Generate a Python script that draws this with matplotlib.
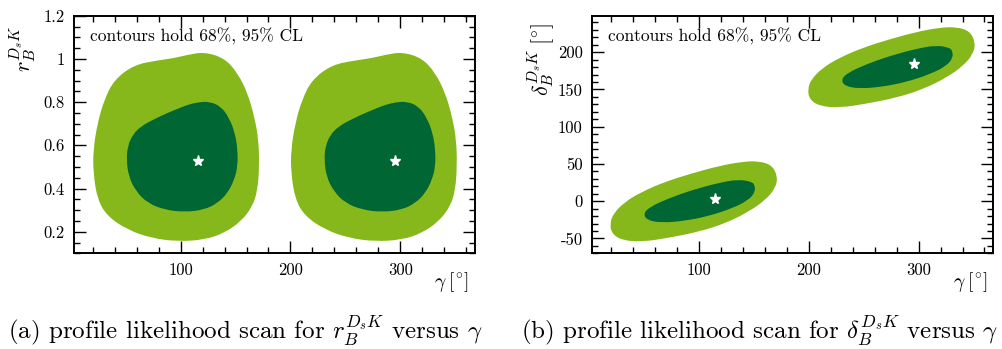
import matplotlib
matplotlib.use("Agg")
import matplotlib.pyplot as plt
from matplotlib.path import Path
from matplotlib.patches import PathPatch
from matplotlib.ticker import MultipleLocator, FixedLocator, FixedFormatter

plt.rcParams["font.family"] = "cmr10"
plt.rcParams["mathtext.fontset"] = "cm"
plt.rcParams["axes.unicode_minus"] = False

light = "#86b81c"
dark = "#006633"

# ---- panel (a): r_B vs gamma, 95% / 68% boundaries and best fit points
ra_out1_g = [121.6, 139.8, 151.9, 161.0, 167.1, 171.0, 171.6, 170.1, 165.5, 155.0, 139.8,
             121.6, 97.3, 73.1, 51.8, 33.5, 24.4, 20.5, 20.5, 24.4, 30.5, 39.6, 57.9, 79.1,
             94.3, 106.4]
ra_out1_r = [1.032, 1.004, 0.935, 0.842, 0.734, 0.626, 0.502, 0.394, 0.317, 0.248, 0.194,
             0.163, 0.155, 0.171, 0.209, 0.271, 0.348, 0.472, 0.580, 0.703, 0.811, 0.904,
             0.973, 0.993, 1.004, 1.019]
ra_in1_g = [126.1, 136.8, 144.3, 149.5, 151.9, 151.9, 148.9, 142.8, 133.7, 121.6, 103.4, 85.2,
            70.0, 59.4, 52.7, 50.8, 51.8, 56.3, 63.9, 76.1, 91.3, 106.4, 115.5]
ra_in1_r = [0.803, 0.780, 0.726, 0.657, 0.580, 0.502, 0.441, 0.379, 0.333, 0.302, 0.291,
            0.302, 0.333, 0.387, 0.456, 0.533, 0.595, 0.649, 0.688, 0.722, 0.757, 0.788, 0.799]
ra_out2_g = [301.6, 319.8, 331.9, 341.0, 347.1, 351.0, 351.6, 350.1, 345.5, 335.0, 319.8,
             301.6, 277.3, 253.1, 231.8, 213.5, 204.4, 200.5, 200.5, 204.4, 210.5, 219.6, 237.9,
             259.1, 274.3, 286.4]
ra_out2_r = ra_out1_r
ra_in2_g = [306.1, 316.8, 324.3, 329.5, 331.9, 331.9, 328.9, 322.8, 313.7, 301.6, 283.4, 265.2,
            250.0, 239.4, 232.7, 230.8, 231.8, 236.3, 243.9, 256.1, 271.3, 286.4, 295.5]
ra_in2_r = ra_in1_r
ra_best_g = [115.5, 295.5]
ra_best_r = [0.526, 0.526]

# ---- panel (b): delta_B vs gamma
db_out1_g = [166.6, 154.4, 139.2, 118.0, 93.6, 69.3, 48.0, 32.8, 22.2, 19.1, 20.7, 29.8, 48.0,
             72.4, 99.7, 124.0, 145.3, 160.5, 169.6, 171.8]
db_out1_d = [48.5, 53.9, 53.0, 47.2, 37.4, 26.1, 12.6, -0.8, -16.4, -29.8, -43.3, -52.3, -54.6,
             -49.2, -41.1, -29.8, -14.2, 1.5, 17.2, 32.8]
db_in1_g = [148.3, 136.2, 118.0, 93.6, 72.4, 55.6, 49.6, 52.6, 66.3, 87.5, 108.8, 130.1, 145.3,
            151.3, 150.8]
db_in1_d = [26.1, 29.3, 24.7, 14.9, 3.8, -7.5, -16.4, -25.4, -29.0, -26.3, -20.0, -9.7, 1.5,
            12.6, 21.6]
db_out2_g = [346.6, 334.4, 319.2, 298.0, 273.6, 249.3, 228.0, 212.8, 202.2, 199.1, 200.7, 209.8,
             228.0, 252.4, 279.7, 304.0, 325.3, 340.5, 349.6, 351.8]
db_out2_d = [228.5, 233.9, 233.0, 227.2, 217.4, 206.1, 192.6, 179.2, 163.6, 150.2, 136.7, 127.7,
             125.4, 130.8, 138.9, 150.2, 165.8, 181.5, 197.2, 212.8]
db_in2_g = [328.3, 316.2, 298.0, 273.6, 252.4, 235.6, 229.6, 232.6, 246.3, 267.5, 288.8, 310.1,
            325.3, 331.3, 330.8]
db_in2_d = [206.1, 209.3, 204.7, 194.9, 183.8, 172.5, 163.6, 154.6, 151.0, 153.7, 160.0, 170.3,
            181.5, 192.6, 201.6]
db_best_g = [115.0, 295.4]
db_best_d = [3.2, 183.9]

gamma_lim = (3, 368)
gamma_ticks = [100, 200, 300]
r_ticks = [0.2, 0.4, 0.6, 0.8, 1.0, 1.2]
r_labels = ["0.2", "0.4", "0.6", "0.8", "1", "1.2"]
d_ticks = [-50, 0, 50, 100, 150, 200]
d_labels = ["-50", "0", "50", "100", "150", "200"]

fig = plt.figure(figsize=(10.03, 3.49), dpi=100)
ax1 = fig.add_axes([0.0738, 0.274, 0.3998, 0.681])
ax2 = fig.add_axes([0.5905, 0.274, 0.3998, 0.681])


def region(ax, xs, ys, color):
    # closed smooth outline: boundary points act as quadratic bezier controls
    n = len(xs)
    mid = [((xs[i] + xs[(i + 1) % n]) / 2, (ys[i] + ys[(i + 1) % n]) / 2) for i in range(n)]
    verts = [mid[-1]]
    codes = [Path.MOVETO]
    for i in range(n):
        verts += [(xs[i], ys[i]), mid[i]]
        codes += [Path.CURVE3, Path.CURVE3]
    verts.append(mid[-1])
    codes.append(Path.CLOSEPOLY)
    ax.add_patch(PathPatch(Path(verts, codes), facecolor=color, edgecolor="none"))


def style(ax, yt, yl, ymin):
    ax.set_xlim(*gamma_lim)
    ax.xaxis.set_major_locator(FixedLocator(gamma_ticks))
    ax.xaxis.set_major_formatter(FixedFormatter([str(t) for t in gamma_ticks]))
    ax.xaxis.set_minor_locator(MultipleLocator(20))
    ax.yaxis.set_major_locator(FixedLocator(yt))
    ax.yaxis.set_major_formatter(FixedFormatter(yl))
    ax.yaxis.set_minor_locator(MultipleLocator(ymin))
    ax.tick_params(which="both", direction="in", top=True, right=True, width=1.0,
                   labelsize=12, pad=7)
    ax.tick_params(which="major", length=8.6)
    ax.tick_params(which="minor", length=4.3)
    for s in ax.spines.values():
        s.set_linewidth(1.4)
    ax.text(0.04, 0.95, "contours hold 68%, 95% CL", transform=ax.transAxes,
            fontsize=12.5, va="top", ha="left")


region(ax1, ra_out1_g, ra_out1_r, light)
region(ax1, ra_out2_g, ra_out2_r, light)
region(ax1, ra_in1_g, ra_in1_r, dark)
region(ax1, ra_in2_g, ra_in2_r, dark)
ax1.plot(ra_best_g, ra_best_r, ls="none", marker="*", ms=8, color="white", mec="white")
ax1.set_ylim(0.1, 1.2)
style(ax1, r_ticks, r_labels, 0.05)

region(ax2, db_out1_g, db_out1_d, light)
region(ax2, db_out2_g, db_out2_d, light)
region(ax2, db_in1_g, db_in1_d, dark)
region(ax2, db_in2_g, db_in2_d, dark)
ax2.plot(db_best_g, db_best_d, ls="none", marker="*", ms=8, color="white", mec="white")
ax2.set_ylim(-70, 249)
style(ax2, d_ticks, d_labels, 10)

# axis titles
fig.text(0.467, 0.193, r"$\gamma\;[{}^{\circ}]$", fontsize=14, ha="right", va="center")
fig.text(0.984, 0.193, r"$\gamma\;[{}^{\circ}]$", fontsize=14, ha="right", va="center")
fig.text(0.023, 0.925, r"$r_B^{D_sK}$", fontsize=16, rotation=90, ha="center", va="top")
fig.text(0.540, 0.935, r"$\delta_B^{D_sK}\;[{}^{\circ}]$", fontsize=16, rotation=90,
         ha="center", va="top")

# sub-figure captions
fig.text(0.008, 0.055, r"(a) profile likelihood scan for $r_B^{D_sK}$ versus $\gamma$",
         fontsize=18, ha="left", va="center")
fig.text(0.519, 0.055, r"(b) profile likelihood scan for $\delta_B^{D_sK}$ versus $\gamma$",
         fontsize=18, ha="left", va="center")

fig.savefig("out.png", dpi=100)
